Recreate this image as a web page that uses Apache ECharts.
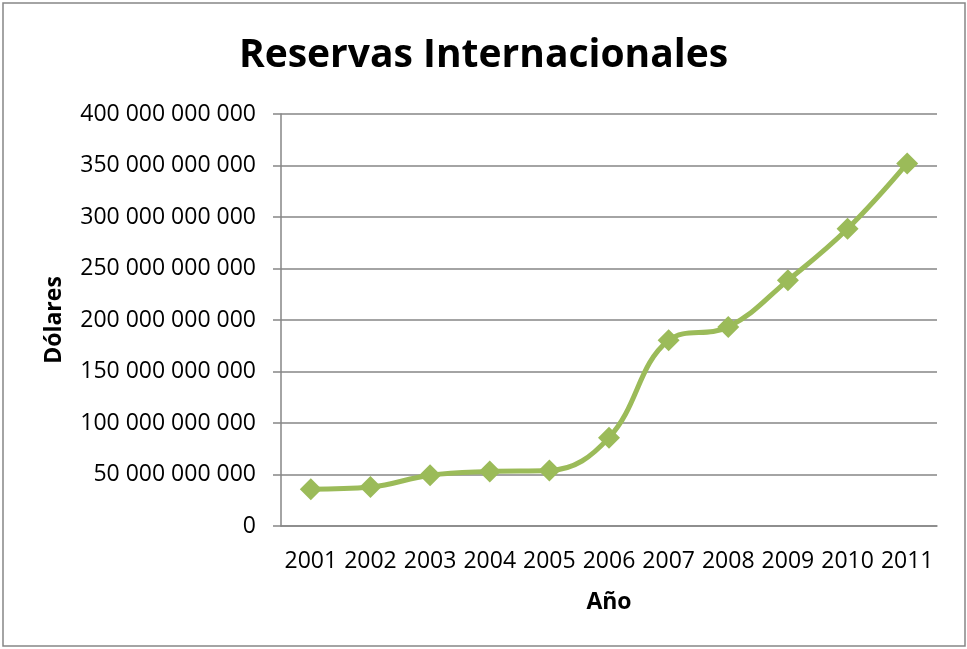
<!DOCTYPE html>
<html>
<head>
<meta charset="utf-8">
<script src="https://cdn.jsdelivr.net/npm/echarts@6/dist/echarts.min.js"></script>
<style>
  html, body { margin: 0; padding: 0; background: #fff; }
  #chart { width: 967px; height: 649px; }
</style>
</head>
<body>
<div id="chart"></div>
<script>
// Years on the horizontal axis
const years = ['2001', '2002', '2003', '2004', '2005', '2006', '2007', '2008', '2009', '2010', '2011'];
// International reserves, in dollars
const reserves = [
  35800000000, 37800000000, 49300000000, 52900000000, 53800000000, 85800000000,
  180300000000, 193300000000, 238500000000, 288600000000, 352000000000
];
// Value axis range and step
const yMin = 0;
const yMax = 400000000000;
const yStep = 50000000000;

const groupDigits = v => String(v).replace(/\B(?=(\d{3})+(?!\d))/g, ' ');

const chart = echarts.init(document.getElementById('chart'), null, { renderer: 'canvas' });
const gray = '#868686';
const font = '"Open Sans", sans-serif';

chart.setOption({
  backgroundColor: '#ffffff',
  animation: false,
  graphic: [{
    type: 'rect',
    shape: { x: 3, y: 3, width: 962, height: 643 },
    style: { fill: 'none', stroke: gray, lineWidth: 1.5 },
    silent: true
  }],
  title: {
    text: 'Reservas Internacionales',
    left: 'center',
    top: 31,
    textStyle: { fontFamily: font, fontSize: 39, fontWeight: 'bold', color: '#000' }
  },
  grid: { left: 281, right: 30, top: 114, bottom: 123, containLabel: false },
  xAxis: {
    type: 'category',
    data: years,
    boundaryGap: true,
    name: 'Año',
    nameLocation: 'middle',
    nameGap: 65,
    nameTextStyle: { fontFamily: font, fontSize: 23, fontWeight: 'bold', color: '#000' },
    axisLine: { lineStyle: { color: gray, width: 1.5 } },
    axisTick: { show: false },
    axisLabel: { fontFamily: font, fontSize: 23, color: '#000', margin: 24, interval: 0 },
    splitLine: { show: false }
  },
  yAxis: {
    type: 'value',
    min: yMin,
    max: yMax,
    interval: yStep,
    name: 'Dólares',
    nameLocation: 'middle',
    nameGap: 215,
    nameTextStyle: { fontFamily: font, fontSize: 23, fontWeight: 'bold', color: '#000' },
    axisLine: { show: true, lineStyle: { color: gray, width: 1.5 } },
    axisTick: { show: true, length: 8, lineStyle: { color: gray, width: 1.5 } },
    axisLabel: { fontFamily: font, fontSize: 23, color: '#000', margin: 25, formatter: groupDigits },
    splitLine: { show: true, lineStyle: { color: gray, width: 1.5 } }
  },
  series: [{
    type: 'line',
    data: reserves,
    smooth: 0.4,
    symbol: 'diamond',
    symbolSize: 22,
    itemStyle: { color: '#9BBB59' },
    lineStyle: { color: '#9BBB59', width: 5 }
  }]
});
</script>
</body>
</html>
